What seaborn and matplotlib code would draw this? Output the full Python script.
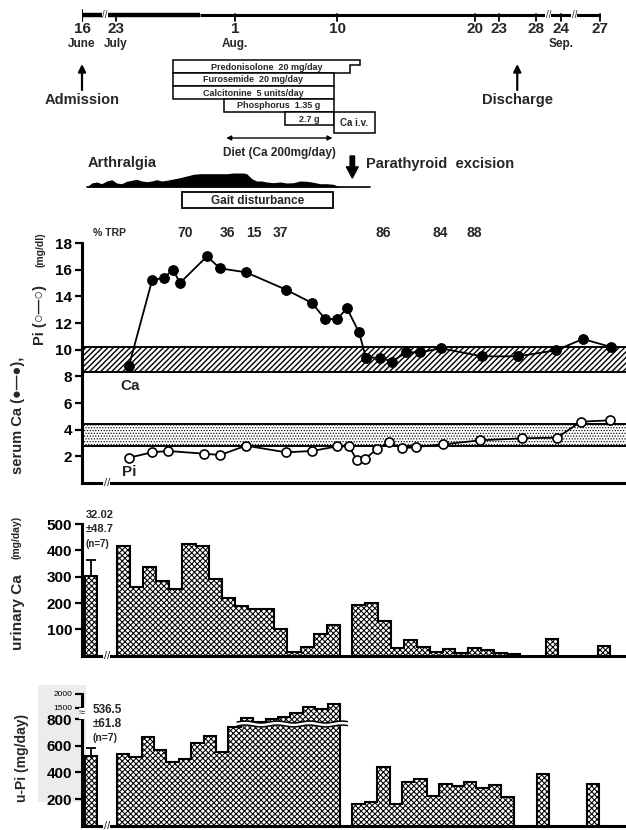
import numpy as np
import matplotlib
matplotlib.use('Agg')
import matplotlib.pyplot as plt
import seaborn as sns
from matplotlib.patches import Rectangle, Polygon

sns.set_style('white')
plt.rcParams['font.family'] = ['Liberation Sans', 'DejaVu Sans']
plt.rcParams['font.weight'] = 'bold'
plt.rcParams['hatch.linewidth'] = 0.55
plt.rcParams['hatch.color'] = 'black'

# x axis unit: one "slot" = one daily urine collection bar (shared by all panels)

# --- time line ---
tl_pos = [-2.8, -0.06, 9.54, 17.8, 28.9, 30.8, 33.8, 35.8, 38.98]
tl_day = ['16', '23', '1', '10', '20', '23', '28', '24', '27']
tl_month = ['June', 'July', 'Aug.', '', '', '', '', 'Sep.', '']
tl_breaks = [-0.94, 34.8, 36.9]
admission_pos = -2.8
discharge_pos = 32.3
surgery_pos = 19.0

# --- treatments ---
drug_label = ['Predonisolone  20 mg/day', 'Furosemide  20 mg/day',
              'Calcitonine  5 units/day', 'Phosphorus  1.35 g', '2.7 g']
drug_start = [4.54, 4.54, 4.54, 8.67, 13.6]
drug_end = [19.6, 17.5, 17.5, 17.5, 17.5]
predon_taper = 18.8
civ_start, civ_end = 17.5, 20.8
diet_start, diet_end = 8.83, 17.4
gait_start, gait_end = 5.24, 17.47

# arthralgia severity profile
art_x = [-2.42, -2.02, -1.61, -1.21, -0.81, -0.40, 0.0, 0.40, 0.81, 1.21, 1.61, 2.02,
         2.42, 2.82, 3.23, 3.63, 4.03, 4.57, 5.10, 5.65, 6.18, 6.72, 7.79, 8.87, 9.40,
         10.2, 10.48, 10.89, 11.29, 11.69, 12.1, 12.63, 13.17, 13.71, 14.25, 14.78,
         15.32, 15.86, 16.4, 16.94, 17.47, 17.87, 18.27]
art_h = [0, 4, 5, 3.3, 6, 7.3, 4, 3.3, 5.7, 6.7, 7.7, 6, 5.3, 6, 7.3, 6, 6.7, 8, 9.3,
         11, 12.7, 13.3, 13.3, 13.3, 14, 14, 13.3, 8.3, 6, 6, 5, 4.3, 5, 4, 4.3, 6,
         5.7, 4.7, 3.3, 3.3, 2.7, 0.7, 0]

# --- serum ---
trp_pos = [5.5, 8.9, 11.1, 13.2, 21.5, 26.1, 28.8]
trp_val = ['70', '36', '15', '37', '86', '84', '88']
ca_x = [0.99, 2.85, 3.81, 4.54, 5.1, 7.28, 8.33, 10.43, 13.65, 15.75, 16.8, 17.77, 18.57,
        19.54, 20.1, 21.23, 22.2, 23.33, 24.46, 26.15, 29.46, 32.36, 35.42, 37.6, 39.86]
ca_v = [8.8, 15.2, 15.4, 16.0, 15.0, 17.0, 16.1, 15.8, 14.5, 13.5, 12.3, 12.3, 13.1,
        11.3, 9.4, 9.4, 9.1, 9.8, 9.8, 10.1, 9.5, 9.5, 9.95, 10.8, 10.2]
pi_x = [0.99, 2.85, 4.14, 7.04, 8.33, 10.43, 13.65, 15.75, 17.77, 18.73, 19.38, 20.02,
        20.99, 21.96, 23.01, 24.14, 26.31, 29.3, 32.68, 35.5, 37.44, 39.78]
pi_v = [1.9, 2.3, 2.4, 2.2, 2.1, 2.8, 2.3, 2.4, 2.75, 2.75, 1.7, 1.8, 2.55, 3.05, 2.6,
        2.7, 2.9, 3.2, 3.35, 3.4, 4.6, 4.7]
ca_normal = (8.3, 10.2)
pi_normal = (2.8, 4.4)

# --- urinary Ca (mg/day) ---
ctrl_x = -2.07
uca_ctrl, uca_ctrl_top = 304, 364
uca_g1_start, uca_g1_w = 0.0, 1.059
uca_g1 = [418, 260, 336, 283, 254, 424, 418, 292, 220, 187, 179, 179, 101, 13, 34, 84, 116]
uca_g2_start, uca_g2_w = 19.0, 1.04
uca_g2 = [191, 200, 131, 28, 59, 34, 15, 25, 11, 31, 21, 11, 5]
uca_single_x = [34.6, 38.8]
uca_single = [62, 38]

# --- urinary Pi (mg/day) ---
upi_ctrl, upi_ctrl_top = 520, 580
upi_g1_start, upi_g1_w = 0.0, 1.0
upi_g1 = [537, 517, 662, 570, 480, 500, 620, 675, 555, 737, 851, 780, 798, 910, 1163,
          1524, 1415, 1633]
upi_g2_start, upi_g2_w = 19.0, 1.0
upi_g2 = [160, 178, 438, 163, 330, 350, 220, 310, 300, 330, 280, 305, 218]
upi_single_x = [33.9, 37.9]
upi_single = [385, 310]
upi_ticks = [200, 400, 600, 800, 1500, 2000]
# broken axis: real value -> drawn height
upi_real = [0, 800, 1500, 2000]
upi_draw = [0, 800, 883, 988]


def upi_y(v):
    return np.interp(v, upi_real, upi_draw)


W, H = 626, 830
X0, X1 = -2.8, 41.07
AX_L = 82
CHECK = 'xxxxxx'
CHECK_LW = 0.75


def fx(px):
    return px / W


def fy(py):
    return 1 - py / H


def thick_hatch(artist, lw):
    if hasattr(artist, 'set_hatch_linewidth'):
        artist.set_hatch_linewidth(lw)


fig = plt.figure(figsize=(W / 100, H / 100), dpi=100)


def add_panel(top_px, bottom_px):
    ax = fig.add_axes([fx(AX_L), fy(bottom_px), (W - AX_L) / W, (bottom_px - top_px) / H])
    ax.set_xlim(X0, X1)
    ax.patch.set_alpha(0)
    return ax


def style_axis(ax):
    for s in ['top', 'right']:
        ax.spines[s].set_visible(False)
    for s in ['left', 'bottom']:
        ax.spines[s].set_color('black')
        ax.spines[s].set_linewidth(2.2)
    ax.set_xticks([])
    ax.tick_params(axis='y', direction='out', length=5, width=1.6, labelsize=11,
                   pad=2, colors='black', left=True)
    for t in ax.get_yticklabels():
        t.set_fontweight('bold')


def x_break(ax, x):
    ax.text(x, 0, '//', transform=ax.get_xaxis_transform(), ha='center', va='center',
            fontsize=8, fontweight='normal', clip_on=False, zorder=10,
            bbox=dict(fc='white', ec='none', pad=0.3))


def step_bars(ax, start, width, heights, yfun=lambda v: v):
    h = yfun(np.asarray(heights, float))
    edges = start + width * np.arange(len(h) + 1)
    fill = ax.fill_between(edges, 0, np.append(h, h[-1]), step='post', facecolor='white',
                           edgecolor='black', hatch=CHECK, linewidth=0, zorder=2)
    thick_hatch(fill, CHECK_LW)
    xs = np.repeat(edges, 2)
    ys = np.concatenate([[0], np.repeat(h, 2), [0]])
    ax.plot(xs, ys, color='black', lw=1.5, zorder=3, solid_joinstyle='miter')


def control_bar(ax, x, mean, top):
    bars = ax.bar(x, mean, width=1.0, facecolor='white', edgecolor='black',
                  hatch=CHECK, lw=1.5, zorder=2)
    for b in bars:
        thick_hatch(b, CHECK_LW)
    ax.errorbar(x, mean, yerr=[[0], [top - mean]], color='black', lw=1.3, capsize=3.5,
                capthick=1.3, zorder=3)


# ================= top: clinical course =================
ax_t = fig.add_axes([fx(AX_L), fy(215), (W - AX_L) / W, 215 / H])
ax_t.set_xlim(X0, X1)
ax_t.set_ylim(215, 0)
ax_t.axis('off')

ax_t.plot([tl_pos[0], 6.7], [15, 15], color='black', lw=3.2, solid_capstyle='butt')
ax_t.plot([6.7, tl_pos[-1]], [15, 15], color='black', lw=2.2, solid_capstyle='butt')
for p, d, m in zip(tl_pos, tl_day, tl_month):
    ax_t.plot([p, p], [14, 21], color='black', lw=1.3)
    ax_t.text(p, 29, d, ha='center', va='center', fontsize=11)
    if m:
        ax_t.text(p, 44, m, ha='center', va='center', fontsize=8.5)
ax_t.plot([tl_pos[0], tl_pos[0]], [10, 21], color='black', lw=1.5)
for b in tl_breaks:
    ax_t.text(b, 15, '//', ha='center', va='center', fontsize=7, fontweight='normal',
              bbox=dict(fc='white', ec='none', pad=0.2))

for p, lab in [(admission_pos, 'Admission'), (discharge_pos, 'Discharge')]:
    ax_t.annotate('', xy=(p, 64), xytext=(p, 90),
                  arrowprops=dict(arrowstyle='-|>', lw=1.6, color='black',
                                  mutation_scale=11, shrinkA=0, shrinkB=0))
    ax_t.text(p, 100, lab, ha='center', va='center', fontsize=10.5)

rows_y = [60, 73, 86, 99, 112]
row_h = 13
for i, (lab, s, e, y) in enumerate(zip(drug_label, drug_start, drug_end, rows_y)):
    if i == 0:
        poly = [(s, y), (e, y), (e, y + 5), (predon_taper, y + 5), (predon_taper, y + row_h),
                (s, y + row_h)]
        ax_t.add_patch(Polygon(poly, closed=True, fc='white', ec='black', lw=1.1))
    else:
        ax_t.add_patch(Rectangle((s, y), e - s, row_h, fc='white', ec='black', lw=1.1))
    ax_t.text((s + e) / 2, y + row_h / 2 + 0.5, lab, ha='center', va='center', fontsize=6.5)
ax_t.add_patch(Rectangle((civ_start, 112), civ_end - civ_start, 21, fc='white',
                         ec='black', lw=1.1))
ax_t.text((civ_start + civ_end) / 2, 122.5, 'Ca i.v.', ha='center', va='center', fontsize=7)

ax_t.annotate('', xy=(diet_start, 138), xytext=(diet_end, 138),
              arrowprops=dict(arrowstyle='<|-|>', lw=1.0, color='black',
                              mutation_scale=7, shrinkA=0, shrinkB=0))
ax_t.text((diet_start + diet_end) / 2, 153, 'Diet (Ca 200mg/day)', ha='center',
          va='center', fontsize=8.5)

ax_t.text(-2.31, 163, 'Arthralgia', ha='left', va='center', fontsize=10.5)
ax_t.fill_between(art_x, 187, 187 - np.array(art_h), color='black', lw=0)
ax_t.plot([art_x[0], 20.4], [187, 187], color='black', lw=1.2)
ax_t.add_patch(Rectangle((gait_start, 192.5), gait_end - gait_start, 16, fc='white',
                         ec='black', lw=1.3))
ax_t.text((gait_start + gait_end) / 2, 200.5, 'Gait disturbance', ha='center',
          va='center', fontsize=8.5)

ax_t.annotate('', xy=(surgery_pos, 178), xytext=(surgery_pos, 156),
              arrowprops=dict(arrowstyle='simple,head_width=0.85,head_length=0.8,tail_width=0.32',
                              fc='black', ec='black', mutation_scale=10, shrinkA=0, shrinkB=0))
ax_t.text(20.1, 164, 'Parathyroid  excision', ha='left', va='center', fontsize=10.5)

# ================= serum Ca / Pi =================
ax_s = add_panel(243, 483)
ax_s.set_ylim(0, 18)
band_ca = ax_s.axhspan(*ca_normal, facecolor='white', edgecolor='black', hatch='//////',
                       lw=0, zorder=1)
thick_hatch(band_ca, 1.0)
band_pi = ax_s.axhspan(*pi_normal, facecolor='white', edgecolor='black', hatch='......',
                       lw=0, zorder=1)
for v in list(ca_normal) + list(pi_normal):
    ax_s.axhline(v, color='black', lw=1.4, zorder=1.5)
sns.lineplot(x=ca_x, y=ca_v, ax=ax_s, sort=False, color='black', lw=1.3, marker='o',
             markersize=7, markerfacecolor='black', markeredgecolor='black', zorder=4)
sns.lineplot(x=pi_x, y=pi_v, ax=ax_s, sort=False, color='black', lw=1.3, marker='o',
             markersize=6.5, markerfacecolor='white', markeredgecolor='black',
             markeredgewidth=1.2, zorder=4)
ax_s.set_yticks(range(2, 19, 2))
style_axis(ax_s)
ax_s.text(1.07, 7.3, 'Ca', ha='center', va='center', fontsize=11)
ax_s.text(0.99, 0.8, 'Pi', ha='center', va='center', fontsize=11)
ax_s.text(-0.55, 18.75, '% TRP', ha='center', va='center', fontsize=7.5)
for p, t in zip(trp_pos, trp_val):
    ax_s.text(p, 18.75, t, ha='center', va='center', fontsize=10)
x_break(ax_s, -0.8)

fig.text(fx(18), fy(415), 'serum Ca (\u25cf\u2014\u25cf),', rotation=90, ha='center',
         va='center', fontsize=10.5)
fig.text(fx(40), fy(315), 'Pi (\u25cb\u2014\u25cb)', rotation=90, ha='center',
         va='center', fontsize=10.5)
fig.text(fx(40), fy(250), '(mg/dl)', rotation=90, ha='center', va='center', fontsize=7.5)

# ================= urinary Ca =================
ax_c = add_panel(524, 655.7)
ax_c.set_ylim(0, 500)
control_bar(ax_c, ctrl_x, uca_ctrl, uca_ctrl_top)
step_bars(ax_c, uca_g1_start, uca_g1_w, uca_g1)
step_bars(ax_c, uca_g2_start, uca_g2_w, uca_g2)
for x, v in zip(uca_single_x, uca_single):
    step_bars(ax_c, x, 1.0, [v])
ax_c.set_yticks([100, 200, 300, 400, 500])
style_axis(ax_c)
x_break(ax_c, -0.8)
fig.text(fx(86), fy(515), '32.02', ha='left', va='center', fontsize=8)
fig.text(fx(86), fy(529), '\u00b148.7', ha='left', va='center', fontsize=8)
fig.text(fx(86), fy(544), '(n=7)', ha='left', va='center', fontsize=7)
fig.text(fx(18), fy(612), 'urinary Ca', rotation=90, ha='center', va='center', fontsize=11)
fig.text(fx(17), fy(537), '(mg/day)', rotation=90, ha='center', va='center', fontsize=7.5)

# ================= urinary Pi =================
fig.patches.append(Rectangle((fx(38), fy(802)), 48 / W, 117 / H, transform=fig.transFigure,
                             fc='#ececec', ec='none', zorder=-1))
ax_p = add_panel(825.7 - 133.3, 825.7)
ax_p.set_ylim(0, 1000)
control_bar(ax_p, ctrl_x, upi_y(upi_ctrl), upi_y(upi_ctrl_top))
step_bars(ax_p, upi_g1_start, upi_g1_w, upi_g1, upi_y)
step_bars(ax_p, upi_g2_start, upi_g2_w, upi_g2, upi_y)
for x, v in zip(upi_single_x, upi_single):
    step_bars(ax_p, x, 1.0, [v], upi_y)
# wavy scale break across the tall bars
wx = np.linspace(9.7, 18.6, 300)
wy = 763 + 7 * np.sin(2 * np.pi * (wx - 9.7) / 2.6)
ax_p.fill_between(wx, wy - 15, wy + 15, color='white', zorder=4, lw=0)
ax_p.plot(wx, wy - 15, color='black', lw=1.1, zorder=5)
ax_p.plot(wx, wy + 15, color='black', lw=1.1, zorder=5)
ax_p.set_yticks(upi_y(upi_ticks))
ax_p.set_yticklabels([str(t) for t in upi_ticks])
style_axis(ax_p)
ax_p.spines['left'].set_bounds(0, upi_y(2000))
for t in ax_p.get_yticklabels()[4:]:
    t.set_fontsize(6)
    t.set_fontweight('normal')
ax_p.text(0, 842, '\u2248', transform=ax_p.get_yaxis_transform(), ha='center', va='center',
          fontsize=8, fontweight='normal', bbox=dict(fc='white', ec='none', pad=0.1),
          clip_on=False, zorder=10)
x_break(ax_p, -0.8)
fig.text(fx(93), fy(710), '536.5', ha='left', va='center', fontsize=8.5)
fig.text(fx(93), fy(724), '\u00b161.8', ha='left', va='center', fontsize=8.5)
fig.text(fx(93), fy(738), '(n=7)', ha='left', va='center', fontsize=7.5)
fig.text(fx(22), fy(758), 'u-Pi (mg/day)', rotation=90, ha='center', va='center',
         fontsize=10)

fig.savefig('out.png', dpi=100)
